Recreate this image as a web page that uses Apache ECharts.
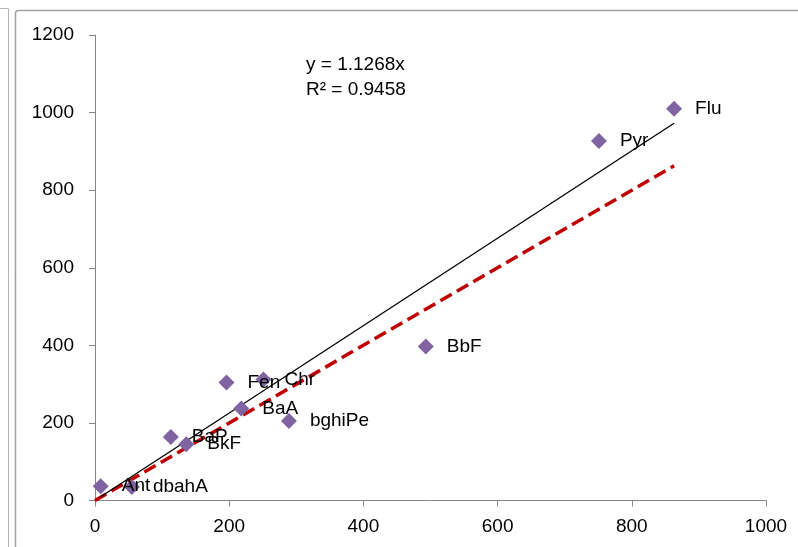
<!DOCTYPE html>
<html>
<head>
<meta charset="utf-8">
<script src="https://cdn.jsdelivr.net/npm/echarts@6/dist/echarts.min.js"></script>
<style>
  html, body { margin: 0; padding: 0; background: #fff; }
  #chart { width: 798px; height: 547px; }
</style>
</head>
<body>
<div id="chart"></div>
<script>
// data
var names = ['Flu', 'Pyr', 'BbF', 'bghiPe', 'Chr', 'Fen', 'BaA', 'BaP', 'BkF', 'Ant', 'dbahA'];
var xVals = [863, 751, 493, 289, 251, 196, 218, 113, 136, 8.5, 55];
var yVals = [1010, 927, 397, 205, 312, 304, 237, 164, 145, 37, 35];

// trendline y = 1.1268x over the x range of the points
var slope = 1.1268;
var trendX = [8.5, 863];
// 1:1 reference line
var refX = [0, 863];
var refY = [0, 863];

var xTicks = [0, 200, 400, 600, 800, 1000];
var yTicks = [0, 200, 400, 600, 800, 1000, 1200];

var font = 'Liberation Sans';
var axisColor = '#868686';

var points = names.map(function (n, i) {
    return { name: n, value: [xVals[i], yVals[i]] };
});
var trendData = trendX.map(function (x) { return [x, slope * x]; });
var refData = refX.map(function (x, i) { return [x, refY[i]]; });

var plain = function (v) { return String(v); };

var myChart = echarts.init(document.getElementById('chart'));
myChart.setOption({
    animation: false,
    backgroundColor: '#fff',
    grid: {
        left: 95,
        right: 32,
        top: 35,
        bottom: 46.5
    },
    xAxis: {
        type: 'value',
        min: xTicks[0],
        max: xTicks[xTicks.length - 1],
        interval: 200,
        splitLine: { show: false },
        axisLine: { lineStyle: { color: axisColor } },
        axisTick: { length: 6, lineStyle: { color: axisColor } },
        axisLabel: { color: '#000', fontFamily: font, fontSize: 19, margin: 17, formatter: plain }
    },
    yAxis: {
        type: 'value',
        min: yTicks[0],
        max: yTicks[yTicks.length - 1],
        interval: 200,
        splitLine: { show: false },
        axisLine: { show: true, lineStyle: { color: axisColor } },
        axisTick: { show: true, length: 6, lineStyle: { color: axisColor } },
        axisLabel: { color: '#000', fontFamily: font, fontSize: 19, margin: 21, formatter: plain }
    },
    graphic: [
        // outer frame pieces
        { type: 'polyline', shape: { points: [[0, 8.5], [8.5, 8.5], [8.5, 547]] },
          style: { stroke: '#b4b4b4', fill: null, lineWidth: 1 } },
        { type: 'rect', shape: { x: 15.5, y: 10.5, width: 800, height: 600, r: 3 },
          style: { stroke: '#a0a0a0', fill: null, lineWidth: 1.5 } },
        // trendline equation
        { type: 'text', left: 306, top: 52,
          style: { text: 'y = 1.1268x\nR² = 0.9458', font: '19px ' + font, fill: '#000', lineHeight: 25 } }
    ],
    series: [{
        type: 'line',
        data: refData,
        symbol: 'none',
        z: 2,
        lineStyle: { color: '#C00000', width: 3.5, type: [13, 6] }
    }, {
        type: 'line',
        data: trendData,
        symbol: 'none',
        z: 3,
        lineStyle: { color: '#000', width: 1.3 }
    }, {
        type: 'scatter',
        data: points,
        symbol: 'diamond',
        symbolSize: 16,
        z: 4,
        itemStyle: { color: '#8064A2', opacity: 1 },
        label: {
            show: true,
            position: 'right',
            distance: 13,
            formatter: '{b}',
            color: '#000',
            fontFamily: font,
            fontSize: 19
        }
    }]
});
</script>
</body>
</html>
